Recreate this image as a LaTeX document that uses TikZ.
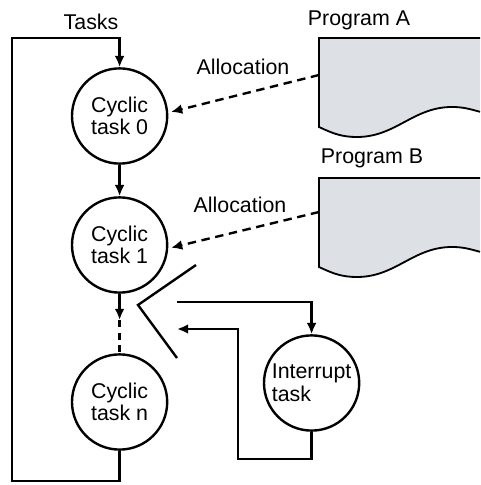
\documentclass[tikz,border=0pt]{standalone}
\usepackage{fontspec}
\setmainfont{Liberation Sans}
\usetikzlibrary{arrows.meta,calc,positioning}
\definecolor{docgray}{RGB}{221,224,228}
\tikzset{
  task/.style={circle,draw,line width=1.7pt,minimum size=2.38cm,inner sep=0pt,
    align=center,font=\fontsize{15.2}{16}\selectfont},
  lab/.style={font=\fontsize{15.2}{16}\selectfont,inner sep=0pt},
  flow/.style={line width=1.7pt},
  arr/.style={-{Latex[length=8pt,width=7pt]},line width=1.7pt},
  alloc/.style={-{Latex[length=8pt,width=7pt]},line width=1.7pt,
    dash pattern=on 6pt off 4pt},
  prog/.style={line width=1.3pt}
}

\begin{document}
\begin{tikzpicture}[scale=1.0]
  \useasboundingbox (0,0) rectangle (12,12.125);
  % cyclic tasks and the interrupt task
  \node[task] (c0) at (2.99,9.225) {Cyclic\\task 0};
  \node[task] (c1) at (2.99,6.0) {Cyclic\\task 1};
  \node[task] (cn) at (2.99,2.075) {Cyclic\\task n};
  \node[task,align=left] (irq) at (7.79,2.55) {Interrupt\\task};
  \node[lab] (tasks) at (2.275,11.575) {Tasks};
  % programs (document shapes)
  \fill[docgray] (12,11.175) -- (7.975,11.175) -- (7.975,8.95)
    to[out=-25,in=180] (8.925,8.7) to[out=0,in=180] (11.3,9.45)
    to[out=0,in=165] (12,9.33) -- cycle;
  \draw[prog] (12,11.175) -- (7.975,11.175) -- (7.975,8.95)
    to[out=-25,in=180] (8.925,8.7) to[out=0,in=180] (11.3,9.45)
    to[out=0,in=165] (12,9.33);
  \fill[docgray] (12,7.675) -- (7.975,7.675) -- (7.975,5.45)
    to[out=-25,in=180] (8.925,5.2) to[out=0,in=180] (11.3,5.95)
    to[out=0,in=165] (12,5.83) -- cycle;
  \draw[prog] (12,7.675) -- (7.975,7.675) -- (7.975,5.45)
    to[out=-25,in=180] (8.925,5.2) to[out=0,in=180] (11.3,5.95)
    to[out=0,in=165] (12,5.83);
  \node[lab] (progA) at (8.975,11.625) {Program A};
  \node[lab] (progB) at (9.3,8.175) {Program B};
  \coordinate (progAin) at (7.975,10.25);
  \coordinate (progBin) at (7.975,6.825);
  % allocation
  \node[lab] (allocA) at (6.075,10.45) {Allocation};
  \node[lab] (allocB) at (6.0,7.0) {Allocation};
  \draw[alloc,shorten >=2pt] (progAin) -- (c0.4);
  \draw[alloc,shorten >=2pt] (progBin) -- (c1.-4);
  % task sequence and loop back
  \coordinate (gap) at (2.99,4.125);
  \coordinate (loopB) at (0.3,0.1);
  \coordinate (loopT) at (0.3,11.175);
  \draw[arr] (c0) -- (c1);
  \draw[arr] (c1) -- (gap);
  \draw[flow,dash pattern=on 5pt off 4pt] (gap) -- (cn.north);
  \draw[arr] (cn.south) |- (loopB) -- (loopT) -| (c0.north);
  % switch to the interrupt task
  \coordinate (swA) at (4.9,5.5);
  \coordinate (swV) at (3.45,4.5);
  \coordinate (swC) at (4.425,3.175);
  \coordinate (swOut) at (4.425,4.575);
  \coordinate (swIn) at (4.425,3.9);
  \coordinate (retB) at (5.95,0.65);
  \draw[flow] (swA) -- (swV) -- (swC);
  \draw[arr] (swOut) -| (irq.north);
  \draw[arr] (irq.south) |- (retB) |- (swIn);
\end{tikzpicture}
\end{document}
